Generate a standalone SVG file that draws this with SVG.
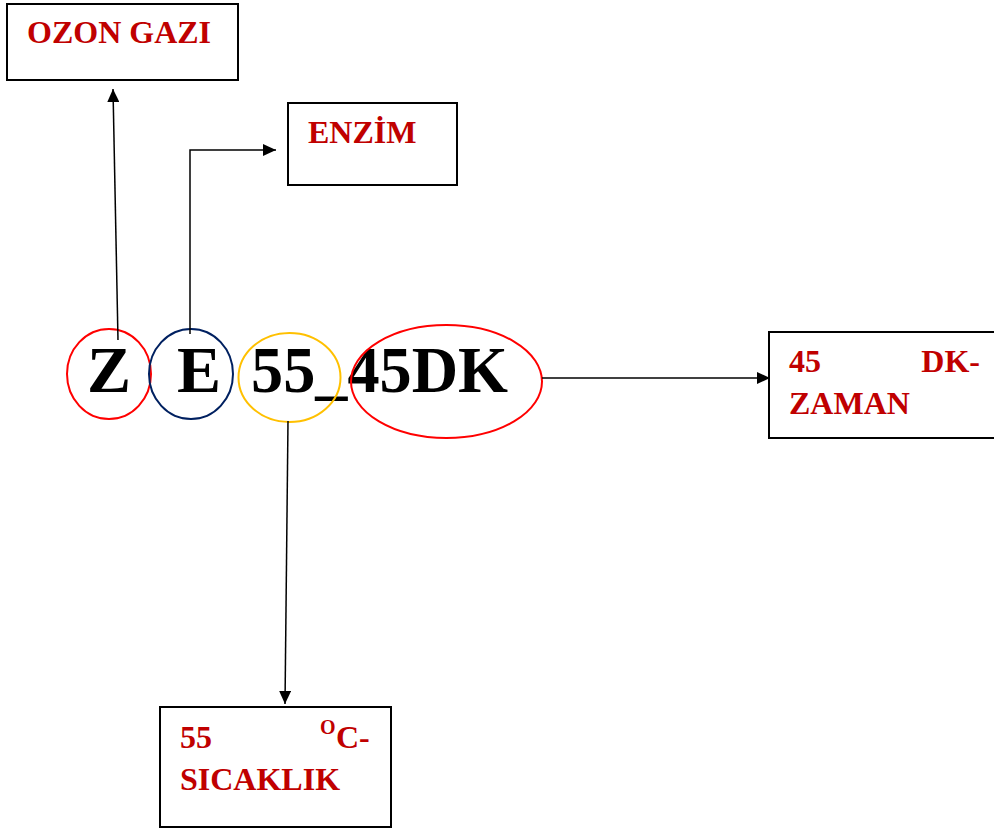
<svg xmlns="http://www.w3.org/2000/svg" width="994" height="832" viewBox="0 0 994 832">
<defs>
<marker id="ah" markerWidth="13" markerHeight="12" refX="13" refY="6" orient="auto" markerUnits="userSpaceOnUse">
<path d="M0,0 L13,6 L0,12 Z" fill="#000"/>
</marker>
<style>
.box{fill:#fff;stroke:#000;stroke-width:2}
.lbl{font-family:"Liberation Serif","Times New Roman",serif;font-weight:bold;font-size:32px;fill:#c00000}
.big{font-family:"Liberation Serif","Times New Roman",serif;font-weight:bold;font-size:66px;fill:#000}
.conn{fill:none;stroke:#000;stroke-width:1.5;marker-end:url(#ah)}
.ring{fill:none;stroke-width:2}
</style>
</defs>
<rect width="994" height="832" fill="#fff"/>
<g id="ozon">
<rect class="box" x="7" y="4" width="231" height="76"/>
<text class="lbl" x="27" y="43">OZON GAZI</text>
</g>
<g id="enzim">
<rect class="box" x="288" y="103" width="169" height="82"/>
<text class="lbl" x="308" y="143">ENZİM</text>
</g>
<g id="zaman">
<rect class="box" x="769" y="332" width="240" height="106"/>
<text class="lbl" x="789" y="372">45</text>
<text class="lbl" x="980" y="372" text-anchor="end">DK-</text>
<text class="lbl" x="789" y="414">ZAMAN</text>
</g>
<g id="sicaklik">
<rect class="box" x="160" y="707" width="231" height="120"/>
<text class="lbl" x="180" y="748">55</text>
<text class="lbl" x="320" y="734" style="font-size:20px">O</text>
<text class="lbl" x="336" y="748">C-</text>
<text class="lbl" x="180" y="790">SICAKLIK</text>
</g>
<g id="code">
<text class="big" x="87" y="392">Z</text>
<text class="big" x="177" y="392">E</text>
<text class="big" x="251" y="392" textLength="257" lengthAdjust="spacingAndGlyphs">55_45DK</text>
</g>
<g id="ring-z"><ellipse class="ring" cx="109" cy="374" rx="42" ry="45" stroke="#ff0000"/></g>
<g id="ring-e"><ellipse class="ring" cx="191" cy="374" rx="42" ry="45" stroke="#002060"/></g>
<g id="ring-55"><ellipse class="ring" cx="289.5" cy="377.5" rx="51" ry="44.5" stroke="#ffc000"/></g>
<g id="ring-45dk"><ellipse class="ring" cx="446.5" cy="381.5" rx="95.5" ry="56.5" stroke="#ff0000"/></g>
<g id="connectors">
<path class="conn" d="M118,340 L113,89"/>
<path class="conn" d="M190,334 L190,150 L276,150"/>
<path class="conn" d="M288,421 L285,704"/>
<path class="conn" d="M542,378 L770,378"/>
</g>
</svg>
